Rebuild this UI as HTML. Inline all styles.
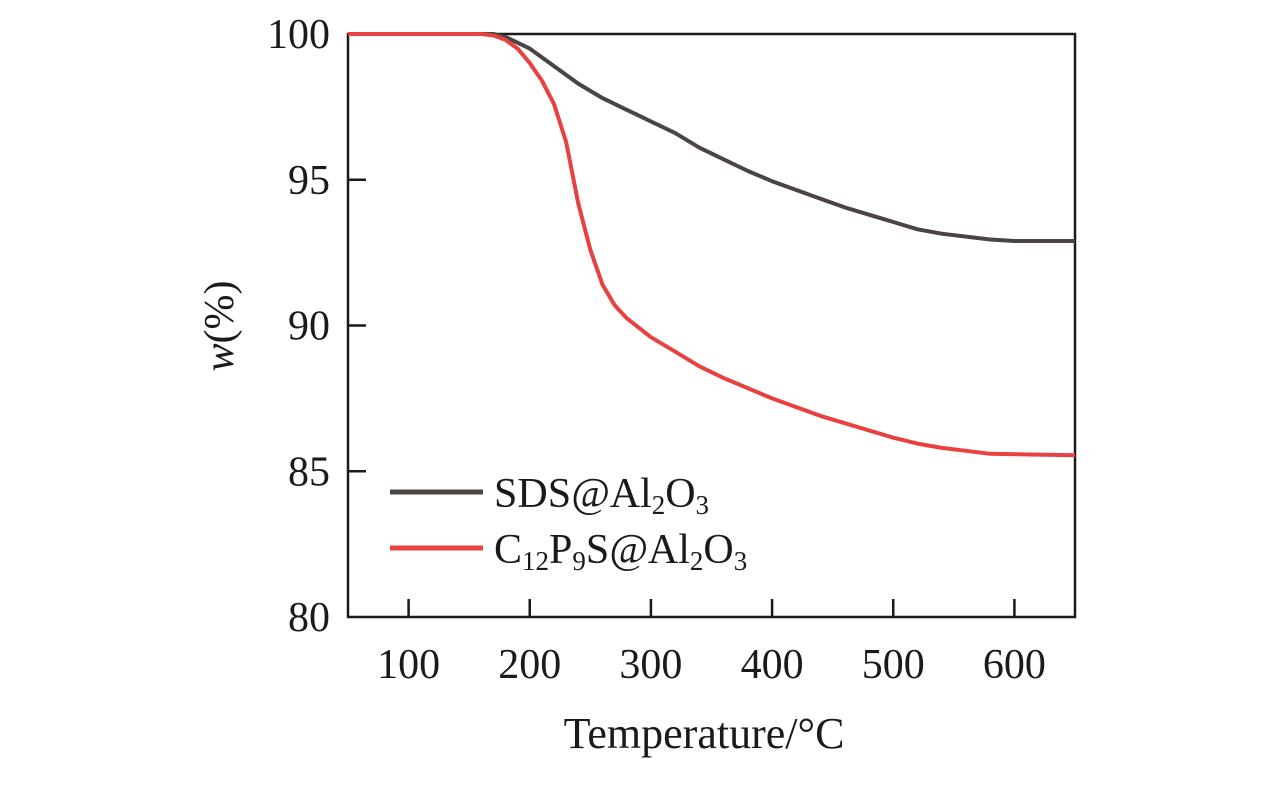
<!DOCTYPE html>
<html><head><meta charset="utf-8"><style>
body{margin:0;background:#fff;}
svg text{font-family:"Liberation Serif",serif;fill:#1a1a1a;}
</style></head><body>
<svg id="chart" width="1276" height="787" viewBox="0 0 1276 787" xmlns="http://www.w3.org/2000/svg">
<g id="axes"></g>
<g id="series"></g>
<g>
<line x1="390" y1="492" x2="483" y2="492" stroke="#4a4442" stroke-width="5"/>
<text x="494" y="507" font-size="42">SDS<tspan font-style="italic">@</tspan>Al<tspan font-size="27" dy="7">2</tspan><tspan dy="-7">O</tspan><tspan font-size="27" dy="7">3</tspan></text>
<line x1="390" y1="548" x2="483" y2="548" stroke="#e8413f" stroke-width="5"/>
<text x="494" y="563" font-size="42">C<tspan font-size="27" dy="7">12</tspan><tspan dy="-7">P</tspan><tspan font-size="27" dy="7">9</tspan><tspan dy="-7">S</tspan><tspan font-style="italic">@</tspan>Al<tspan font-size="27" dy="7">2</tspan><tspan dy="-7">O</tspan><tspan font-size="27" dy="7">3</tspan></text>
</g>
<text x="704" y="748" font-size="44" text-anchor="middle">Temperature/°C</text>
<text transform="translate(233,326) rotate(-90)" font-size="42" text-anchor="middle"><tspan font-style="italic">w</tspan>(%)</text>
</svg>
<script>
const xTicks=[100,200,300,400,500,600];
const yTicks=[80,85,90,95,100];
const sdsT=[50,170,180,200,220,240,260,280,300,320,340,360,380,400,420,440,460,480,500,520,540,560,580,600,650];
const sdsW=[100,100,99.9,99.5,98.9,98.3,97.8,97.4,97.0,96.6,96.1,95.7,95.3,94.95,94.65,94.35,94.05,93.8,93.55,93.3,93.15,93.05,92.95,92.9,92.9];
const redT=[50,160,170,180,190,200,210,220,230,240,250,260,270,280,300,320,340,360,380,400,420,440,460,480,500,520,540,560,580,650];
const redW=[100,100,99.95,99.8,99.5,99.0,98.4,97.6,96.3,94.2,92.6,91.4,90.7,90.25,89.6,89.1,88.6,88.2,87.85,87.5,87.2,86.9,86.65,86.4,86.15,85.95,85.8,85.7,85.6,85.55];
const X0=348,X1=1075,Y0=617,Y1=34,xmin=50,xmax=650,ymin=80,ymax=100;
const sx=v=>X0+(v-xmin)/(xmax-xmin)*(X1-X0);
const sy=v=>Y0-(v-ymin)/(ymax-ymin)*(Y0-Y1);
const NS="http://www.w3.org/2000/svg";
const axes=document.getElementById('axes'),ser=document.getElementById('series');
function mk(t,a,p){const e=document.createElementNS(NS,t);for(const k in a)e.setAttribute(k,a[k]);p.appendChild(e);return e;}
const frame=mk('rect',{x:X0,y:Y1,width:X1-X0,height:Y0-Y1,fill:'none',stroke:'#1a1a1a','stroke-width':2.5},axes);


xTicks.forEach(v=>{
 const l=mk('line',{x1:sx(v),x2:sx(v),y1:Y0,y2:Y0-18,stroke:'#1a1a1a','stroke-width':2.5},axes);
 
 
 const t=mk('text',{x:sx(v),y:Y0+61,'font-size':42,'text-anchor':'middle'},axes);t.textContent=v;
 
 
});
yTicks.forEach(v=>{
 if(v>ymin&&v<ymax){const l=mk('line',{x1:X0,x2:X0+18,y1:sy(v),y2:sy(v),stroke:'#1a1a1a','stroke-width':2.5},axes);
 
 }
 const t=mk('text',{x:330,y:sy(v)+14,'font-size':42,'text-anchor':'end'},axes);t.textContent=v;
 
 
});
function line(T,W,c,name){
 const d=T.map((t,i)=>(i?'L':'M')+sx(t).toFixed(1)+' '+sy(W[i]).toFixed(1)).join(' ');
 const p=mk('path',{d:d,fill:'none',stroke:c,'stroke-width':4,'stroke-linejoin':'round'},ser);
 
 
}
line(sdsT,sdsW,'#4a4442','series-sds');
line(redT,redW,'#e8413f','series-c12p9s');
</script>
</body></html>
